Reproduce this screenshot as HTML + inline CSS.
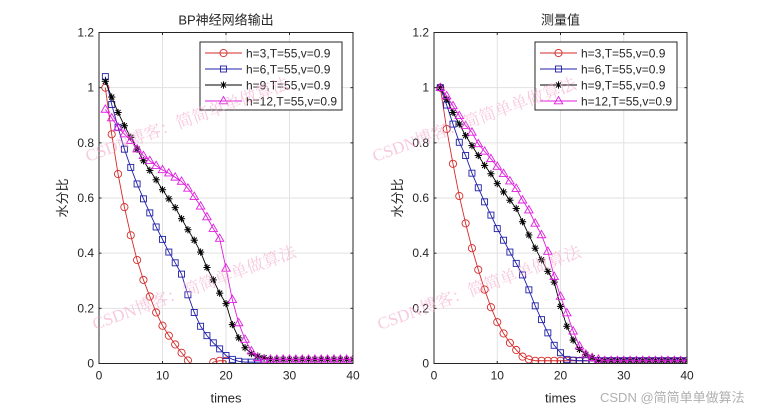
<!DOCTYPE html>
<html><head><meta charset="utf-8"><style>
html,body{margin:0;padding:0;background:#fff;width:761px;height:409px;overflow:hidden}
svg{display:block}
text{font-family:"Liberation Sans","Noto Sans CJK SC",sans-serif;fill:#262626}
</style></head><body>
<svg id="s" width="761" height="409" viewBox="0 0 761 409" xmlns="http://www.w3.org/2000/svg"></svg>
<script>
const S=document.getElementById('s');
let h='';
const pad=(a,v)=>{while(a.length<40)a.push(v);return a;};
const L={
r:pad([1.0,0.831,0.687,0.567,0.465,0.375,0.303,0.243,0.185,0.137,0.101,0.069,0.039,0.011,-0.02,-0.03,-0.02,0.005,0.01,0.01],null),
b:pad([1.04,0.939,0.856,0.777,0.711,0.651,0.597,0.546,0.495,0.450,0.404,0.365,0.324,0.249,0.185,0.135,0.101,0.075,0.053,0.029,0.015,0.008,0.005,0.005,0.005,0.005,0.005],null),
k:pad([1.023,0.966,0.910,0.862,0.820,0.777,0.735,0.700,0.666,0.630,0.597,0.565,0.525,0.485,0.447,0.404,0.348,0.303,0.255,0.217,0.141,0.093,0.057,0.036,0.027,0.021],0.015),
m:pad([0.921,0.89,0.856,0.832,0.808,0.777,0.753,0.735,0.717,0.702,0.690,0.675,0.66,0.635,0.605,0.57,0.531,0.489,0.453,0.345,0.231,0.147,0.087,0.045,0.021,0.015],0.015)};
const R={
r:pad([1.0,0.850,0.724,0.607,0.508,0.418,0.340,0.268,0.204,0.150,0.109,0.075,0.049,0.025,0.015],0.01),
b:pad([1.0,0.937,0.868,0.802,0.754,0.690,0.637,0.586,0.538,0.489,0.447,0.404,0.363,0.321,0.267,0.209,0.159,0.111,0.066,0.039,0.015,0.012],0.01),
k:pad([1.0,0.958,0.910,0.868,0.826,0.790,0.754,0.718,0.688,0.652,0.622,0.592,0.562,0.514,0.466,0.418,0.376,0.334,0.295,0.207,0.135,0.085,0.051,0.033,0.021],0.01),
m:pad([1.0,0.970,0.934,0.898,0.862,0.838,0.796,0.769,0.742,0.714,0.688,0.661,0.634,0.592,0.556,0.508,0.466,0.406,0.315,0.243,0.183,0.117,0.063,0.033,0.021,0.015],0.01)};
const col={r:'#d62a2a',b:'#1f1fa8',k:'#000',m:'#e01ee0'};
function marker(t,x,y){
 const c=col[t];
 if(t=='r')return `<circle cx="${x}" cy="${y}" r="3.6" fill="none" stroke="${c}" stroke-width="0.9"/>`;
 if(t=='b')return `<rect x="${x-3}" y="${y-3}" width="6" height="6" fill="none" stroke="${c}" stroke-width="0.9"/>`;
 if(t=='k'){let s='';for(const a of [0,45,90,135]){const r=a*Math.PI/180;s+=`<line x1="${x-3.6*Math.cos(r)}" y1="${y-3.6*Math.sin(r)}" x2="${x+3.6*Math.cos(r)}" y2="${y+3.6*Math.sin(r)}" stroke="#000" stroke-width="1"/>`;}return s;}
 return `<polygon points="${x},${y-4.5} ${x+4.2},${y+2.8} ${x-4.2},${y+2.8}" fill="none" stroke="${c}" stroke-width="0.9"/>`;
}
function axes(x0,x1,top,bot,data,title,lx0,lx1){
 const sx=v=>x0+(x1-x0)*v/40, sy=v=>bot-(bot-top)*v/1.2;
 for(const t of [10,20,30])h+=`<line x1="${sx(t)}" y1="${top}" x2="${sx(t)}" y2="${bot}" stroke="#e2e2e2" stroke-width="1"/>`;
 for(const t of [0.2,0.4,0.6,0.8,1.0])h+=`<line x1="${x0}" y1="${sy(t)}" x2="${x1}" y2="${sy(t)}" stroke="#e2e2e2" stroke-width="1"/>`;
 h+=`<svg x="${x0}" y="${top}" width="${x1-x0}" height="${bot-top}" overflow="hidden"><g transform="translate(${-x0},${-top})">`;
 for(const t of ['r','b','k','m']){
  const d=data[t];let pts=[];
  d.forEach((v,i)=>{if(v!==null)pts.push([sx(i+1),sy(v)]);});
  h+=`<polyline points="${pts.map(p=>p.join(',')).join(' ')}" fill="none" stroke="${col[t]}" stroke-width="0.9"/>`;
  pts.forEach(p=>h+=marker(t,p[0],p[1]));
 }
 h+=`</g></svg>`;
 h+=`<rect x="${x0}" y="${top}" width="${x1-x0}" height="${bot-top}" fill="none" stroke="#262626" stroke-width="1"/>`;
 for(let t=0;t<=40;t+=10){h+=`<line x1="${sx(t)}" y1="${bot}" x2="${sx(t)}" y2="${bot-2.5}" stroke="#262626"/><line x1="${sx(t)}" y1="${top}" x2="${sx(t)}" y2="${top+2.5}" stroke="#262626"/>`;
  h+=`<text x="${sx(t)}" y="${bot+16}" font-size="12" text-anchor="middle">${t}</text>`;}
 for(let i=0;i<=6;i++){const t=i*0.2;const lab=i==0?'0':(i==5?'1':t.toFixed(1));
  h+=`<line x1="${x0}" y1="${sy(t)}" x2="${x0+2.5}" y2="${sy(t)}" stroke="#262626"/><line x1="${x1}" y1="${sy(t)}" x2="${x1-2.5}" y2="${sy(t)}" stroke="#262626"/>`;
  h+=`<text x="${x0-5}" y="${sy(t)+4}" font-size="12" text-anchor="end">${lab}</text>`;}
 const cx=(x0+x1)/2;
 h+=`<text x="${cx}" y="${top-8}" font-size="13" text-anchor="middle">${title}</text>`;
 h+=`<text x="${cx}" y="${bot+39}" font-size="13" text-anchor="middle">times</text>`;
 h+=`<text transform="translate(${x0-32},${(top+bot)/2}) rotate(-90)" font-size="13" text-anchor="middle">水分比</text>`;
 h+=`<rect x="${lx0}" y="42" width="${lx1-lx0}" height="68" fill="#fff" stroke="#262626" stroke-width="1"/>`;
 const labs=['h=3,T=55,v=0.9','h=6,T=55,v=0.9','h=9,T=55,v=0.9','h=12,T=55,v=0.9'];
 ['r','b','k','m'].forEach((t,i)=>{const y=53+i*16;
  h+=`<line x1="${lx0+5}" y1="${y}" x2="${lx0+42}" y2="${y}" stroke="${col[t]}" stroke-width="0.9"/>`+marker(t,lx0+23.5,y);
  h+=`<text x="${lx0+46}" y="${y+4.5}" font-size="12">${labs[i]}</text>`;});
}
axes(99,353,32.5,363.5,L,'BP神经网络输出',200,342);
axes(434,687,32.5,363.5,R,'测量值',535,677);
const wm=(x,y,s)=>h+=`<text transform="translate(${x},${y}) rotate(-20)" font-size="${s}" style="fill:#f2a0c4;opacity:0.55;font-family:'Liberation Serif','Noto Serif CJK SC',serif">CSDN博客：简简单单做算法</text>`;
wm(88,162,17);wm(95,330,17);wm(375,162,17);wm(380,330,17);
h+=`<text x="600" y="402" font-size="13" style="fill:#b0b0b0">CSDN @简简单单做算法</text>`;
S.innerHTML=h;
</script>
</body></html>
